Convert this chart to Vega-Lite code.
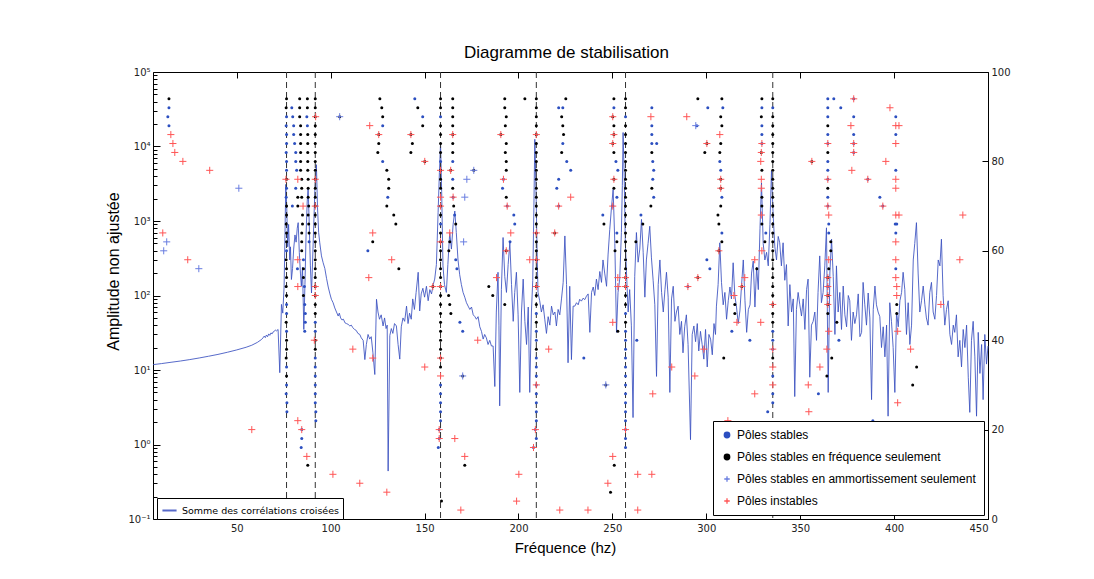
{
"$schema": "https://vega.github.io/schema/vega-lite/v6.json",
"width": 835, "height": 447,
"autosize": {"type": "none"},
"padding": {"left": 153, "top": 72, "right": 106, "bottom": 60},
"background": "white",
"title": {"text": "Diagramme de stabilisation", "fontSize": 17, "font": "Liberation Sans", "fontWeight": "normal", "color": "#000", "offset": 5, "dx": -4},
"config": {
  "view": {"stroke": "#000", "strokeWidth": 1},
  "font": "DejaVu Sans",
  "axis": {"grid": false, "domain": false, "labelFontSize": 10, "labelColor": "#222", "tickColor": "#000", "titleFontWeight": "normal", "titleColor": "#000", "labelFont": "DejaVu Sans"}
},
"datasets": {
"spectre": [
{"f":5.4,"a":11.8},{"f":10,"a":12.2},{"f":15,"a":12.7},{"f":20,"a":13.2},{"f":25,"a":13.8},{"f":30,"a":14.5},{"f":35,"a":15.3},{"f":40,"a":16.2},{"f":45,"a":17.3},{"f":50,"a":18.6},{"f":55,"a":20.2},{"f":58,"a":21.5},{"f":61,"a":23.5},{"f":63,"a":25.5},{"f":64,"a":27},{"f":64.6,"a":28.5},{"f":65.2,"a":27.2},{"f":65.8,"a":29.5},{"f":66.4,"a":28},{"f":67,"a":30.5},{"f":67.6,"a":29.2},{"f":68.2,"a":31.5},{"f":68.8,"a":30.5},{"f":69.4,"a":32.5},{"f":70,"a":33},{"f":70.6,"a":34.5},{"f":71.2,"a":33.5},{"f":72,"a":35},{"f":72.9,"a":9.2},{"f":73.8,"a":76},{"f":74.5,"a":58},{"f":75.2,"a":130},{"f":75.7,"a":700},{"f":76.1,"a":3100},{"f":76.6,"a":1600},{"f":77.1,"a":450},{"f":77.6,"a":900},{"f":78.2,"a":300},{"f":78.6,"a":450},{"f":79.1,"a":164},{"f":79.7,"a":230},{"f":80.3,"a":420},{"f":81,"a":650},{"f":81.6,"a":520},{"f":82.2,"a":800},{"f":82.7,"a":950},{"f":83.3,"a":380},{"f":83.9,"a":200},{"f":84.4,"a":133},{"f":85,"a":240},{"f":85.7,"a":35},{"f":86.3,"a":140},{"f":86.9,"a":650},{"f":87.5,"a":1800},{"f":88,"a":2800},{"f":88.6,"a":900},{"f":89.2,"a":250},{"f":89.8,"a":108},{"f":90.4,"a":300},{"f":91,"a":900},{"f":91.6,"a":2600},{"f":92.4,"a":5700},{"f":93,"a":1500},{"f":93.6,"a":700},{"f":94.2,"a":510},{"f":95.1,"a":340},{"f":96,"a":275},{"f":96.9,"a":230},{"f":97.8,"a":170},{"f":98.7,"a":130},{"f":99.6,"a":105},{"f":100.4,"a":89},{"f":101.3,"a":80},{"f":102.2,"a":68},{"f":103.1,"a":60},{"f":104,"a":53},{"f":104.6,"a":58},{"f":105.3,"a":50},{"f":106,"a":47},{"f":106.8,"a":48},{"f":107.6,"a":43},{"f":108.4,"a":42},{"f":109.3,"a":41},{"f":110.2,"a":39},{"f":111,"a":40},{"f":111.8,"a":37},{"f":112.7,"a":35},{"f":113.6,"a":34},{"f":114.5,"a":31},{"f":115.5,"a":30},{"f":116.3,"a":27},{"f":117.3,"a":25},{"f":118.2,"a":13.8},{"f":119,"a":22},{"f":119.9,"a":30},{"f":120.8,"a":26},{"f":121.6,"a":28},{"f":122.5,"a":17},{"f":123.5,"a":8.7},{"f":124.4,"a":89},{"f":125.2,"a":60},{"f":126,"a":48},{"f":126.9,"a":55},{"f":127.9,"a":39},{"f":128.7,"a":50},{"f":129.5,"a":36},{"f":130.1,"a":40},{"f":130.6,"a":0.44},{"f":131.5,"a":29},{"f":132.3,"a":36},{"f":133.1,"a":31},{"f":134,"a":42},{"f":135,"a":39},{"f":135.9,"a":22},{"f":136.8,"a":14},{"f":137.6,"a":38},{"f":138.5,"a":50},{"f":139.4,"a":45},{"f":140.4,"a":72},{"f":141.2,"a":42},{"f":142,"a":58},{"f":142.9,"a":48},{"f":143.7,"a":90},{"f":144.6,"a":65},{"f":145.5,"a":110},{"f":146.6,"a":205},{"f":147.4,"a":62},{"f":148.2,"a":105},{"f":149.1,"a":125},{"f":150,"a":95},{"f":151,"a":133},{"f":151.9,"a":85},{"f":152.8,"a":120},{"f":153.7,"a":105},{"f":154.6,"a":140},{"f":155.4,"a":166},{"f":156.3,"a":260},{"f":157.2,"a":1300},{"f":157.9,"a":4500},{"f":158.5,"a":11000},{"f":159.1,"a":2500},{"f":159.8,"a":250},{"f":160.6,"a":140},{"f":161.6,"a":110},{"f":162.4,"a":260},{"f":163.4,"a":700},{"f":164.3,"a":420},{"f":165.2,"a":900},{"f":166.1,"a":1360},{"f":166.9,"a":700},{"f":167.8,"a":300},{"f":168.7,"a":190},{"f":169.6,"a":140},{"f":170.5,"a":110},{"f":171.4,"a":95},{"f":172.3,"a":80},{"f":173.2,"a":72},{"f":174.1,"a":65},{"f":175,"a":70},{"f":175.9,"a":55},{"f":176.8,"a":52},{"f":177.6,"a":48},{"f":178.5,"a":52},{"f":179.4,"a":38},{"f":180.3,"a":33},{"f":181.2,"a":26},{"f":182,"a":30},{"f":182.9,"a":27},{"f":183.8,"a":22},{"f":184.7,"a":25},{"f":185.6,"a":21},{"f":186.5,"a":21},{"f":187.4,"a":6},{"f":188.2,"a":60},{"f":189.1,"a":205},{"f":189.6,"a":40},{"f":190,"a":3.3},{"f":190.9,"a":120},{"f":191.8,"a":600},{"f":192.7,"a":180},{"f":193.6,"a":110},{"f":194.5,"a":260},{"f":195.4,"a":510},{"f":196.3,"a":140},{"f":197.2,"a":45},{"f":198,"a":110},{"f":198.9,"a":205},{"f":199.8,"a":55},{"f":200.7,"a":5},{"f":201.6,"a":60},{"f":202.5,"a":166},{"f":203.4,"a":45},{"f":204.3,"a":22},{"f":205.2,"a":70},{"f":206,"a":5},{"f":206.9,"a":60},{"f":207.6,"a":160},{"f":208.2,"a":1500},{"f":208.7,"a":12500},{"f":209.3,"a":3000},{"f":209.9,"a":400},{"f":210.4,"a":110},{"f":211.3,"a":85},{"f":212.2,"a":60},{"f":213.1,"a":75},{"f":214,"a":48},{"f":214.9,"a":31},{"f":215.8,"a":52},{"f":216.7,"a":40},{"f":217.6,"a":72},{"f":218.5,"a":55},{"f":219.4,"a":60},{"f":220.2,"a":39},{"f":221.1,"a":65},{"f":222,"a":55},{"f":222.9,"a":90},{"f":223.8,"a":150},{"f":224.7,"a":630},{"f":225.6,"a":140},{"f":226.4,"a":12.5},{"f":227.3,"a":133},{"f":228.2,"a":13.8},{"f":229.1,"a":72},{"f":230,"a":72},{"f":230.9,"a":80},{"f":231.8,"a":75},{"f":232.6,"a":89},{"f":233.5,"a":84},{"f":234.4,"a":92},{"f":235.3,"a":88},{"f":236.2,"a":98},{"f":237.1,"a":105},{"f":238,"a":32},{"f":238.9,"a":110},{"f":239.8,"a":130},{"f":240.6,"a":100},{"f":241.5,"a":166},{"f":242.4,"a":120},{"f":243.3,"a":210},{"f":244.2,"a":150},{"f":245,"a":300},{"f":245.9,"a":200},{"f":246.9,"a":133},{"f":247.7,"a":350},{"f":248.6,"a":770},{"f":249.5,"a":1500},{"f":250.4,"a":2650},{"f":251.3,"a":500},{"f":252.2,"a":32},{"f":253,"a":110},{"f":253.9,"a":166},{"f":254.8,"a":700},{"f":255.3,"a":3000},{"f":255.7,"a":15400},{"f":256.3,"a":4000},{"f":256.9,"a":500},{"f":257.6,"a":180},{"f":258.4,"a":60},{"f":259.2,"a":120},{"f":260.1,"a":40},{"f":261,"a":2.3},{"f":261.9,"a":180},{"f":262.8,"a":700},{"f":263.7,"a":280},{"f":264.6,"a":420},{"f":265.5,"a":1050},{"f":266.4,"a":380},{"f":267.3,"a":95},{"f":268.1,"a":300},{"f":269,"a":500},{"f":269.9,"a":850},{"f":270.8,"a":320},{"f":271.7,"a":160},{"f":272.6,"a":75},{"f":273.5,"a":8.2},{"f":274.4,"a":140},{"f":275.3,"a":300},{"f":276.2,"a":110},{"f":277.1,"a":60},{"f":278,"a":120},{"f":278.8,"a":205},{"f":279.7,"a":95},{"f":280.6,"a":5},{"f":281.5,"a":90},{"f":282.4,"a":133},{"f":283.3,"a":45},{"f":284.1,"a":60},{"f":285,"a":72},{"f":285.9,"a":30},{"f":286.8,"a":45},{"f":287.6,"a":17},{"f":288.5,"a":38},{"f":289.4,"a":55},{"f":290.3,"a":22},{"f":291.6,"a":1.16},{"f":292.5,"a":30},{"f":293.4,"a":39},{"f":294.3,"a":24},{"f":295.2,"a":42},{"f":296,"a":18},{"f":296.9,"a":33},{"f":297.8,"a":22},{"f":298.7,"a":14},{"f":299.6,"a":35},{"f":300.5,"a":11},{"f":301.4,"a":30},{"f":302.3,"a":26},{"f":303.2,"a":16},{"f":304.1,"a":42},{"f":304.9,"a":30},{"f":305.4,"a":72},{"f":306.3,"a":140},{"f":307.2,"a":510},{"f":308.1,"a":150},{"f":309,"a":75},{"f":309.9,"a":110},{"f":310.8,"a":48},{"f":311.7,"a":85},{"f":312.6,"a":130},{"f":313.4,"a":90},{"f":314.3,"a":275},{"f":315.2,"a":100},{"f":316.1,"a":70},{"f":317,"a":42},{"f":317.9,"a":62},{"f":318.8,"a":140},{"f":319.7,"a":300},{"f":320.6,"a":85},{"f":321.5,"a":32},{"f":322.4,"a":65},{"f":323.3,"a":75},{"f":324.1,"a":200},{"f":325,"a":290},{"f":325.9,"a":70},{"f":326.8,"a":240},{"f":327.7,"a":120},{"f":328.6,"a":800},{"f":329.4,"a":3250},{"f":330.3,"a":500},{"f":331.2,"a":300},{"f":332.1,"a":380},{"f":333,"a":250},{"f":333.9,"a":900},{"f":334.7,"a":4680},{"f":335.6,"a":1200},{"f":336.5,"a":450},{"f":337.4,"a":300},{"f":338.3,"a":620},{"f":339.1,"a":510},{"f":340,"a":250},{"f":340.9,"a":510},{"f":341.8,"a":160},{"f":342.7,"a":260},{"f":343.6,"a":39},{"f":344.5,"a":140},{"f":345.4,"a":60},{"f":346.3,"a":90},{"f":347.1,"a":4.4},{"f":348,"a":65},{"f":348.9,"a":110},{"f":349.8,"a":75},{"f":350.7,"a":53},{"f":351.6,"a":90},{"f":352.5,"a":35},{"f":353.4,"a":120},{"f":354.2,"a":166},{"f":355.1,"a":8},{"f":356,"a":40},{"f":356.9,"a":45},{"f":357.8,"a":60},{"f":358.7,"a":25},{"f":359.5,"a":110},{"f":360.4,"a":340},{"f":361.3,"a":80},{"f":362.2,"a":110},{"f":363.1,"a":250},{"f":364,"a":810},{"f":364.9,"a":5},{"f":365.8,"a":200},{"f":366.7,"a":570},{"f":367.6,"a":180},{"f":368.5,"a":30},{"f":369.3,"a":250},{"f":370.2,"a":60},{"f":371.1,"a":110},{"f":372,"a":35},{"f":372.9,"a":134},{"f":373.8,"a":55},{"f":374.7,"a":38},{"f":375.6,"a":100},{"f":376.4,"a":85},{"f":377.3,"a":25},{"f":378.2,"a":60},{"f":379.1,"a":42},{"f":380,"a":55},{"f":380.9,"a":105},{"f":381.8,"a":28},{"f":382.7,"a":32},{"f":383.5,"a":150},{"f":384.4,"a":75},{"f":385.3,"a":40},{"f":386.2,"a":108},{"f":387.1,"a":50},{"f":388,"a":4},{"f":388.9,"a":65},{"f":389.8,"a":134},{"f":390.6,"a":75},{"f":391.5,"a":60},{"f":392.4,"a":52},{"f":393.3,"a":20},{"f":394.2,"a":38},{"f":395.1,"a":15},{"f":396,"a":40},{"f":396.8,"a":2.4},{"f":397.7,"a":80},{"f":398.6,"a":45},{"f":399.5,"a":20},{"f":400.4,"a":5},{"f":401.3,"a":60},{"f":402.2,"a":38},{"f":403.1,"a":85},{"f":404,"a":110},{"f":404.8,"a":205},{"f":405.7,"a":120},{"f":406.6,"a":30},{"f":407.5,"a":80},{"f":408.4,"a":22},{"f":409.3,"a":40},{"f":410.2,"a":300},{"f":411,"a":500},{"f":411.9,"a":950},{"f":412.8,"a":200},{"f":413.7,"a":60},{"f":414.6,"a":85},{"f":415.5,"a":134},{"f":416.4,"a":75},{"f":417.2,"a":50},{"f":418.1,"a":40},{"f":419,"a":110},{"f":419.9,"a":150},{"f":420.8,"a":60},{"f":421.7,"a":48},{"f":422.6,"a":100},{"f":423.5,"a":300},{"f":424.4,"a":250},{"f":425.2,"a":570},{"f":426.1,"a":100},{"f":427,"a":40},{"f":427.9,"a":65},{"f":428.8,"a":85},{"f":429.7,"a":30},{"f":430.6,"a":22},{"f":431.5,"a":40},{"f":432.3,"a":32},{"f":433.2,"a":55},{"f":434.1,"a":15},{"f":435,"a":25},{"f":435.9,"a":11},{"f":436.8,"a":35},{"f":437.7,"a":20},{"f":438.6,"a":40},{"f":439.5,"a":8},{"f":440.3,"a":2.7},{"f":441.2,"a":25},{"f":442.1,"a":45},{"f":443,"a":15},{"f":443.9,"a":2.4},{"f":444.8,"a":32},{"f":445.7,"a":9},{"f":446.6,"a":22},{"f":447.4,"a":4},{"f":448.3,"a":30},{"f":449.2,"a":12},{"f":450,"a":21}
],
"modes": [{"f":76.5},{"f":91.8},{"f":158.5},{"f":209.5},{"f":257},{"f":335.4}],
"poles": [
{"o":94,"f":13.9,"t":"f"},{"o":92,"f":13.9,"t":"s"},{"o":90,"f":13.3,"t":"s"},{"o":88,"f":13.9,"t":"s"},{"o":86,"f":14.9,"t":"u"},{"o":84,"f":16.0,"t":"u"},{"o":82,"f":17.0,"t":"u"},{"o":80,"f":21.3,"t":"u"},{"o":78,"f":35.6,"t":"u"},{"o":74,"f":51.1,"t":"d"},{"o":64,"f":10.6,"t":"u"},{"o":62,"f":12.7,"t":"d"},{"o":60,"f":11.1,"t":"d"},{"o":58,"f":23.9,"t":"u"},{"o":56,"f":29.8,"t":"d"},{"o":20,"f":58.0,"t":"u"},
{"o":94,"f":76.5,"t":"f"},{"o":92,"f":76.3,"t":"f"},{"o":90,"f":76.5,"t":"s"},{"o":88,"f":76.3,"t":"s"},{"o":86,"f":76.5,"t":"s"},{"o":84,"f":76.5,"t":"s"},{"o":82,"f":76.3,"t":"s"},{"o":80,"f":76.5,"t":"s"},{"o":78,"f":76.5,"t":"s"},{"o":76,"f":76.5,"t":"f"},{"o":74,"f":76.5,"t":"s"},{"o":72,"f":76.3,"t":"s"},{"o":70,"f":76.5,"t":"f"},{"o":68,"f":76.5,"t":"f"},{"o":66,"f":76.3,"t":"f"},{"o":64,"f":76.5,"t":"f"},{"o":62,"f":76.5,"t":"f"},{"o":60,"f":76.5,"t":"s"},{"o":58,"f":76.3,"t":"f"},{"o":56,"f":76.5,"t":"f"},{"o":54,"f":76.5,"t":"f"},{"o":52,"f":76.3,"t":"f"},{"o":50,"f":76.5,"t":"f"},{"o":48,"f":76.5,"t":"s"},{"o":46,"f":76.5,"t":"s"},{"o":44,"f":76.3,"t":"f"},{"o":42,"f":76.5,"t":"s"},{"o":40,"f":76.5,"t":"f"},{"o":38,"f":76.5,"t":"f"},{"o":36,"f":76.3,"t":"f"},{"o":34,"f":76.5,"t":"s"},{"o":32,"f":76.5,"t":"f"},{"o":30,"f":76.5,"t":"s"},{"o":28,"f":76.3,"t":"s"},{"o":26,"f":76.7,"t":"s"},{"o":24,"f":76.7,"t":"s"},
{"o":92,"f":79.3,"t":"s"},{"o":90,"f":79.8,"t":"s"},{"o":88,"f":80.3,"t":"s"},{"o":86,"f":80.3,"t":"s"},{"o":84,"f":80.8,"t":"s"},{"o":82,"f":81.4,"t":"s"},{"o":80,"f":81.4,"t":"s"},{"o":78,"f":81.9,"t":"s"},{"o":74,"f":81.4,"t":"s"},{"o":72,"f":82.5,"t":"f"},{"o":70,"f":82.5,"t":"f"},{"o":70,"f":79.6,"t":"s"},{"o":56,"f":82.3,"t":"s"},
{"o":94,"f":83.5,"t":"f"},{"o":92,"f":83.5,"t":"f"},{"o":90,"f":83.5,"t":"f"},{"o":88,"f":84.0,"t":"f"},{"o":86,"f":84.0,"t":"f"},{"o":84,"f":84.0,"t":"f"},{"o":82,"f":84.0,"t":"f"},{"o":80,"f":84.0,"t":"f"},{"o":78,"f":84.0,"t":"f"},{"o":76,"f":84.6,"t":"f"},{"o":74,"f":84.6,"t":"f"},{"o":72,"f":84.6,"t":"f"},{"o":68,"f":85.0,"t":"f"},{"o":66,"f":85.0,"t":"f"},{"o":64,"f":84.6,"t":"f"},{"o":62,"f":84.6,"t":"f"},{"o":60,"f":84.6,"t":"f"},{"o":58,"f":85.5,"t":"s"},{"o":56,"f":85.5,"t":"f"},{"o":54,"f":85.5,"t":"f"},{"o":52,"f":86.0,"t":"s"},{"o":50,"f":85.5,"t":"f"},{"o":48,"f":86.2,"t":"s"},{"o":46,"f":86.5,"t":"s"},{"o":44,"f":86.5,"t":"s"},{"o":42,"f":86.2,"t":"s"},{"o":20,"f":84.6,"t":"s"},{"o":18,"f":84.6,"t":"s"},{"o":16,"f":84.3,"t":"s"},{"o":12,"f":87.8,"t":"f"},
{"o":94,"f":87.6,"t":"f"},{"o":92,"f":87.6,"t":"f"},{"o":90,"f":87.3,"t":"s"},{"o":88,"f":87.6,"t":"s"},{"o":86,"f":87.8,"t":"f"},{"o":84,"f":87.8,"t":"f"},{"o":82,"f":87.8,"t":"f"},{"o":80,"f":87.8,"t":"f"},{"o":78,"f":87.8,"t":"f"},{"o":76,"f":88.0,"t":"f"},{"o":74,"f":88.0,"t":"f"},{"o":72,"f":88.0,"t":"f"},{"o":70,"f":88.3,"t":"f"},{"o":68,"f":88.0,"t":"f"},{"o":66,"f":88.3,"t":"f"},{"o":64,"f":88.5,"t":"f"},{"o":62,"f":88.5,"t":"s"},
{"o":94,"f":91.8,"t":"f"},{"o":92,"f":91.8,"t":"f"},{"o":90,"f":91.8,"t":"f"},{"o":88,"f":91.8,"t":"f"},{"o":86,"f":91.8,"t":"f"},{"o":84,"f":91.8,"t":"f"},{"o":82,"f":91.8,"t":"f"},{"o":80,"f":91.8,"t":"f"},{"o":78,"f":91.8,"t":"f"},{"o":76,"f":91.8,"t":"f"},{"o":74,"f":91.8,"t":"f"},{"o":72,"f":91.8,"t":"f"},{"o":70,"f":91.8,"t":"f"},{"o":68,"f":91.8,"t":"f"},{"o":66,"f":91.8,"t":"f"},{"o":64,"f":91.8,"t":"f"},{"o":62,"f":91.8,"t":"f"},{"o":60,"f":91.8,"t":"f"},{"o":58,"f":91.8,"t":"f"},{"o":56,"f":91.8,"t":"f"},{"o":54,"f":91.8,"t":"f"},{"o":52,"f":91.8,"t":"f"},{"o":50,"f":91.8,"t":"f"},{"o":48,"f":91.8,"t":"f"},{"o":46,"f":91.8,"t":"f"},{"o":44,"f":91.8,"t":"s"},{"o":42,"f":91.8,"t":"s"},{"o":40,"f":91.8,"t":"f"},{"o":38,"f":91.8,"t":"f"},{"o":36,"f":91.8,"t":"s"},{"o":34,"f":91.8,"t":"s"},{"o":32,"f":91.8,"t":"s"},{"o":30,"f":91.8,"t":"s"},{"o":28,"f":91.8,"t":"s"},{"o":26,"f":91.8,"t":"s"},{"o":24,"f":92.1,"t":"s"},{"o":22,"f":92.1,"t":"s"},
{"o":90,"f":104.8,"t":"f"},
{"o":94,"f":126.2,"t":"f"},{"o":92,"f":127.2,"t":"f"},{"o":90,"f":127.7,"t":"f"},{"o":88,"f":127.7,"t":"s"},{"o":86,"f":125.6,"t":"f"},{"o":84,"f":125.6,"t":"f"},{"o":82,"f":125.1,"t":"f"},{"o":80,"f":127.7,"t":"s"},{"o":78,"f":129.9,"t":"f"},{"o":76,"f":130.9,"t":"f"},{"o":74,"f":130.9,"t":"f"},{"o":72,"f":130.4,"t":"s"},{"o":70,"f":129.9,"t":"f"},{"o":68,"f":133.6,"t":"f"},{"o":66,"f":134.7,"t":"f"},{"o":62,"f":122.4,"t":"f"},{"o":60,"f":119.8,"t":"s"},{"o":56,"f":136.3,"t":"f"},
{"o":94,"f":144.8,"t":"s"},{"o":92,"f":146.4,"t":"f"},{"o":90,"f":149.0,"t":"s"},{"o":88,"f":149.0,"t":"f"},{"o":86,"f":142.7,"t":"f"},{"o":84,"f":143.5,"t":"f"},{"o":82,"f":142.7,"t":"f"},{"o":80,"f":150.1,"t":"f"},{"o":52,"f":154.4,"t":"f"},
{"o":94,"f":158.5,"t":"f"},{"o":92,"f":158.5,"t":"f"},{"o":90,"f":158.5,"t":"s"},{"o":88,"f":158.5,"t":"f"},{"o":86,"f":158.5,"t":"f"},{"o":84,"f":158.5,"t":"f"},{"o":82,"f":158.5,"t":"f"},{"o":80,"f":158.5,"t":"s"},{"o":78,"f":158.5,"t":"f"},{"o":76,"f":158.5,"t":"f"},{"o":74,"f":158.5,"t":"f"},{"o":70,"f":158.5,"t":"f"},{"o":68,"f":158.5,"t":"f"},{"o":66,"f":158.5,"t":"s"},{"o":64,"f":158.5,"t":"f"},{"o":62,"f":158.5,"t":"f"},{"o":60,"f":158.5,"t":"f"},{"o":58,"f":158.5,"t":"f"},{"o":56,"f":158.5,"t":"f"},{"o":54,"f":158.5,"t":"f"},{"o":52,"f":158.5,"t":"f"},{"o":50,"f":158.5,"t":"f"},{"o":48,"f":158.5,"t":"f"},{"o":46,"f":158.5,"t":"f"},{"o":44,"f":158.5,"t":"f"},{"o":42,"f":158.5,"t":"f"},{"o":40,"f":158.5,"t":"f"},{"o":38,"f":158.5,"t":"f"},{"o":36,"f":158.5,"t":"f"},{"o":34,"f":158.5,"t":"f"},{"o":30,"f":158.5,"t":"s"},{"o":28,"f":158.5,"t":"s"},{"o":26,"f":158.5,"t":"s"},{"o":24,"f":158.5,"t":"s"},{"o":22,"f":158.5,"t":"s"},{"o":20,"f":157.8,"t":"s"},{"o":18,"f":157.8,"t":"s"},{"o":16,"f":157.3,"t":"s"},{"o":4,"f":159.0,"t":"f"},
{"o":94,"f":165.0,"t":"f"},{"o":92,"f":165.0,"t":"f"},{"o":90,"f":165.0,"t":"f"},{"o":88,"f":165.0,"t":"f"},{"o":86,"f":165.0,"t":"f"},{"o":84,"f":165.0,"t":"f"},{"o":82,"f":165.0,"t":"f"},{"o":80,"f":165.0,"t":"s"},{"o":78,"f":163.9,"t":"f"},{"o":76,"f":165.0,"t":"s"},{"o":74,"f":165.0,"t":"f"},{"o":72,"f":165.2,"t":"s"},{"o":70,"f":165.5,"t":"f"},{"o":68,"f":166.0,"t":"s"},{"o":66,"f":166.6,"t":"f"},{"o":62,"f":163.4,"t":"f"},{"o":60,"f":162.9,"t":"f"},{"o":58,"f":166.6,"t":"s"},{"o":56,"f":167.2,"t":"s"},{"o":50,"f":162.8,"t":"f"},{"o":48,"f":163.4,"t":"f"},{"o":46,"f":164.0,"t":"f"},{"o":44,"f":168.8,"t":"s"},{"o":42,"f":170.3,"t":"s"},{"o":32,"f":170.3,"t":"f"},{"o":12,"f":171.4,"t":"f"},{"o":78,"f":176.2,"t":"f"},
{"o":94,"f":192.7,"t":"f"},{"o":92,"f":192.7,"t":"f"},{"o":90,"f":193.5,"t":"f"},{"o":88,"f":193.0,"t":"f"},{"o":86,"f":190.6,"t":"f"},{"o":84,"f":193.5,"t":"f"},{"o":82,"f":193.0,"t":"f"},{"o":80,"f":193.5,"t":"f"},{"o":78,"f":193.5,"t":"f"},{"o":76,"f":192.0,"t":"s"},{"o":74,"f":191.5,"t":"s"},{"o":72,"f":193.5,"t":"f"},{"o":70,"f":194.0,"t":"s"},{"o":68,"f":197.5,"t":"s"},{"o":66,"f":198.0,"t":"s"},{"o":62,"f":195.5,"t":"s"},{"o":60,"f":193.5,"t":"f"},{"o":52,"f":184.2,"t":"f"},{"o":50,"f":186.3,"t":"f"},{"o":48,"f":192.7,"t":"f"},{"o":94,"f":203.4,"t":"f"},
{"o":94,"f":209.5,"t":"f"},{"o":92,"f":209.5,"t":"f"},{"o":90,"f":209.5,"t":"f"},{"o":88,"f":209.5,"t":"f"},{"o":86,"f":209.5,"t":"f"},{"o":84,"f":209.5,"t":"f"},{"o":82,"f":209.5,"t":"f"},{"o":80,"f":209.5,"t":"f"},{"o":78,"f":209.5,"t":"f"},{"o":76,"f":209.5,"t":"f"},{"o":74,"f":209.5,"t":"f"},{"o":72,"f":209.5,"t":"f"},{"o":70,"f":209.5,"t":"f"},{"o":68,"f":209.5,"t":"f"},{"o":66,"f":209.5,"t":"f"},{"o":64,"f":209.5,"t":"f"},{"o":62,"f":209.5,"t":"f"},{"o":60,"f":209.5,"t":"f"},{"o":58,"f":209.5,"t":"f"},{"o":56,"f":209.5,"t":"f"},{"o":54,"f":209.5,"t":"f"},{"o":52,"f":209.5,"t":"f"},{"o":50,"f":209.5,"t":"f"},{"o":48,"f":209.5,"t":"f"},{"o":46,"f":209.5,"t":"s"},{"o":44,"f":209.5,"t":"f"},{"o":42,"f":209.5,"t":"s"},{"o":40,"f":209.5,"t":"s"},{"o":38,"f":209.5,"t":"f"},{"o":36,"f":209.5,"t":"s"},{"o":34,"f":209.5,"t":"s"},{"o":32,"f":209.5,"t":"s"},{"o":30,"f":209.5,"t":"s"},{"o":28,"f":209.5,"t":"s"},{"o":26,"f":209.5,"t":"s"},{"o":24,"f":209.5,"t":"s"},{"o":22,"f":209.5,"t":"s"},{"o":20,"f":209.0,"t":"s"},{"o":18,"f":209.5,"t":"s"},{"o":16,"f":208.0,"t":"s"},
{"o":94,"f":225.2,"t":"f"},{"o":92,"f":221.4,"t":"s"},{"o":92,"f":223.6,"t":"s"},{"o":90,"f":223.0,"t":"f"},{"o":88,"f":223.6,"t":"f"},{"o":86,"f":224.0,"t":"f"},{"o":84,"f":223.6,"t":"s"},{"o":82,"f":223.0,"t":"f"},{"o":80,"f":225.7,"t":"s"},{"o":78,"f":227.8,"t":"s"},{"o":76,"f":221.4,"t":"s"},{"o":74,"f":220.4,"t":"s"},{"o":70,"f":221.4,"t":"s"},{"o":64,"f":219.3,"t":"f"},{"o":68,"f":244.9,"t":"s"},{"o":66,"f":245.5,"t":"f"},{"o":36,"f":234.8,"t":"s"},{"o":30,"f":246.5,"t":"f"},
{"o":94,"f":250.8,"t":"f"},{"o":92,"f":250.8,"t":"s"},{"o":90,"f":250.2,"t":"f"},{"o":88,"f":250.8,"t":"f"},{"o":86,"f":250.8,"t":"f"},{"o":84,"f":250.2,"t":"f"},{"o":82,"f":250.8,"t":"f"},{"o":80,"f":251.9,"t":"s"},{"o":78,"f":252.9,"t":"s"},{"o":76,"f":250.8,"t":"f"},{"o":74,"f":250.8,"t":"f"},{"o":72,"f":252.4,"t":"s"},{"o":70,"f":250.2,"t":"s"},{"o":64,"f":252.4,"t":"s"},{"o":62,"f":252.4,"t":"f"},{"o":60,"f":251.4,"t":"f"},{"o":42,"f":252.9,"t":"f"},{"o":12,"f":251.0,"t":"f"},{"o":6,"f":249.0,"t":"f"},
{"o":94,"f":257,"t":"f"},{"o":92,"f":257,"t":"f"},{"o":90,"f":257,"t":"s"},{"o":88,"f":257,"t":"f"},{"o":86,"f":257,"t":"f"},{"o":84,"f":257,"t":"f"},{"o":82,"f":257,"t":"f"},{"o":80,"f":257,"t":"f"},{"o":78,"f":257,"t":"f"},{"o":76,"f":257,"t":"f"},{"o":74,"f":257,"t":"f"},{"o":72,"f":257,"t":"f"},{"o":70,"f":257,"t":"f"},{"o":68,"f":257,"t":"f"},{"o":66,"f":257,"t":"f"},{"o":64,"f":257,"t":"f"},{"o":62,"f":257,"t":"f"},{"o":60,"f":257,"t":"f"},{"o":58,"f":257,"t":"f"},{"o":56,"f":257,"t":"f"},{"o":54,"f":257,"t":"f"},{"o":52,"f":257,"t":"f"},{"o":50,"f":257,"t":"f"},{"o":48,"f":257,"t":"f"},{"o":46,"f":257,"t":"s"},{"o":44,"f":257,"t":"f"},{"o":42,"f":257,"t":"s"},{"o":40,"f":257,"t":"s"},{"o":38,"f":257,"t":"s"},{"o":36,"f":257,"t":"s"},{"o":34,"f":257,"t":"s"},{"o":32,"f":257,"t":"s"},{"o":30,"f":257,"t":"s"},{"o":28,"f":257,"t":"s"},{"o":26,"f":257,"t":"s"},{"o":24,"f":257,"t":"s"},{"o":22,"f":257,"t":"s"},{"o":20,"f":257,"t":"s"},{"o":18,"f":257,"t":"s"},{"o":16,"f":257,"t":"s"},
{"o":62,"f":262.5,"t":"f"},{"o":68,"f":265.2,"t":"s"},{"o":66,"f":266.2,"t":"f"},{"o":40,"f":263.0,"t":"s"},
{"o":92,"f":271.0,"t":"s"},{"o":88,"f":271.0,"t":"s"},{"o":86,"f":271.0,"t":"s"},{"o":84,"f":271.0,"t":"s"},{"o":84,"f":273.6,"t":"s"},{"o":82,"f":271.0,"t":"f"},{"o":80,"f":271.5,"t":"s"},{"o":78,"f":272.0,"t":"s"},{"o":76,"f":271.5,"t":"s"},{"o":74,"f":271.0,"t":"f"},{"o":72,"f":272.0,"t":"s"},{"o":70,"f":270.5,"t":"f"},
{"o":94,"f":295.5,"t":"f"},{"o":92,"f":300.8,"t":"s"},{"o":88,"f":295.0,"t":"s"},{"o":84,"f":300.3,"t":"f"},{"o":82,"f":299.2,"t":"f"},
{"o":94,"f":308.3,"t":"f"},{"o":92,"f":308.8,"t":"s"},{"o":90,"f":307.7,"t":"f"},{"o":88,"f":308.3,"t":"f"},{"o":84,"f":307.7,"t":"f"},{"o":82,"f":307.2,"t":"f"},{"o":80,"f":307.2,"t":"s"},{"o":78,"f":307.7,"t":"s"},{"o":76,"f":307.7,"t":"f"},{"o":74,"f":307.7,"t":"f"},{"o":72,"f":308.3,"t":"s"},{"o":70,"f":307.7,"t":"f"},{"o":68,"f":306.2,"t":"f"},{"o":66,"f":306.7,"t":"f"},{"o":64,"f":308.3,"t":"s"},{"o":62,"f":308.3,"t":"f"},{"o":60,"f":306.7,"t":"f"},{"o":58,"f":300.3,"t":"s"},{"o":56,"f":301.9,"t":"s"},{"o":54,"f":295.5,"t":"f"},{"o":52,"f":290.2,"t":"s"},{"o":36,"f":309.3,"t":"f"},{"o":48,"f":315.2,"t":"f"},{"o":46,"f":315.2,"t":"f"},{"o":42,"f":313.6,"t":"s"},{"o":40,"f":323.2,"t":"s"},{"o":52,"f":318.9,"t":"f"},{"o":56,"f":326.9,"t":"f"},
{"o":94,"f":329.6,"t":"f"},{"o":92,"f":329.6,"t":"s"},{"o":90,"f":329.3,"t":"f"},{"o":88,"f":329.6,"t":"s"},{"o":86,"f":329.6,"t":"s"},{"o":84,"f":329.6,"t":"s"},{"o":82,"f":329.3,"t":"f"},{"o":78,"f":329.6,"t":"f"},{"o":72,"f":329.6,"t":"f"},{"o":70,"f":329.6,"t":"f"},{"o":66,"f":329.6,"t":"f"},{"o":64,"f":331.7,"t":"s"},{"o":62,"f":331.2,"t":"f"},
{"o":94,"f":335.4,"t":"f"},{"o":92,"f":335.4,"t":"s"},{"o":90,"f":335.4,"t":"f"},{"o":88,"f":335.4,"t":"f"},{"o":86,"f":335.4,"t":"f"},{"o":84,"f":335.4,"t":"f"},{"o":82,"f":335.4,"t":"f"},{"o":80,"f":335.4,"t":"f"},{"o":78,"f":335.4,"t":"f"},{"o":76,"f":335.4,"t":"f"},{"o":74,"f":335.4,"t":"f"},{"o":72,"f":335.4,"t":"f"},{"o":70,"f":335.4,"t":"f"},{"o":68,"f":335.4,"t":"f"},{"o":66,"f":335.4,"t":"f"},{"o":64,"f":335.4,"t":"f"},{"o":62,"f":335.4,"t":"f"},{"o":60,"f":335.4,"t":"f"},{"o":58,"f":335.4,"t":"f"},{"o":56,"f":335.4,"t":"f"},{"o":54,"f":335.4,"t":"f"},{"o":52,"f":335.4,"t":"f"},{"o":50,"f":335.4,"t":"f"},{"o":48,"f":335.4,"t":"f"},{"o":46,"f":335.4,"t":"f"},{"o":44,"f":335.4,"t":"f"},{"o":42,"f":335.4,"t":"s"},{"o":40,"f":335.4,"t":"s"},{"o":38,"f":335.4,"t":"s"},{"o":36,"f":335.4,"t":"f"},{"o":32,"f":335.4,"t":"s"},{"o":28,"f":335.4,"t":"s"},{"o":26,"f":335.4,"t":"s"},{"o":24,"f":332.7,"t":"s"},
{"o":94,"f":364.7,"t":"s"},{"o":94,"f":367.9,"t":"s"},{"o":92,"f":364.7,"t":"s"},{"o":92,"f":371.6,"t":"s"},{"o":90,"f":364.7,"t":"s"},{"o":88,"f":364.7,"t":"f"},{"o":86,"f":364.7,"t":"s"},{"o":84,"f":364.7,"t":"s"},{"o":82,"f":364.7,"t":"f"},{"o":80,"f":364.7,"t":"s"},{"o":78,"f":364.7,"t":"s"},{"o":76,"f":364.7,"t":"s"},{"o":74,"f":364.7,"t":"f"},{"o":72,"f":364.7,"t":"s"},{"o":70,"f":364.7,"t":"s"},{"o":66,"f":365.2,"t":"s"},{"o":64,"f":365.2,"t":"s"},{"o":62,"f":366.3,"t":"f"},{"o":60,"f":366.3,"t":"f"},{"o":56,"f":365.2,"t":"f"},{"o":54,"f":364.7,"t":"f"},{"o":52,"f":364.7,"t":"s"},{"o":50,"f":364.7,"t":"f"},{"o":48,"f":364.7,"t":"f"},{"o":46,"f":364.7,"t":"f"},{"o":44,"f":369.5,"t":"f"},{"o":40,"f":370.6,"t":"s"},{"o":36,"f":366.8,"t":"f"},{"o":32,"f":364.2,"t":"f"},{"o":28,"f":359.7,"t":"s"},
{"o":94,"f":378.5,"t":"s"},{"o":90,"f":378.5,"t":"s"},{"o":86,"f":378.5,"t":"s"},{"o":84,"f":378.5,"t":"s"},{"o":82,"f":378.5,"t":"s"},{"o":80,"f":356.2,"t":"f"},{"o":76,"f":386.0,"t":"s"},{"o":72,"f":392.4,"t":"s"},{"o":70,"f":394.0,"t":"s"},
{"o":90,"f":400.9,"t":"s"},{"o":86,"f":400.9,"t":"s"},{"o":78,"f":400.9,"t":"s"},{"o":66,"f":400.6,"t":"s"},{"o":66,"f":401.4,"t":"s"},{"o":64,"f":400.9,"t":"s"},{"o":56,"f":400.9,"t":"s"},{"o":48,"f":401.4,"t":"f"},{"o":46,"f":401.4,"t":"f"},{"o":34,"f":412.0,"t":"f"},{"o":30,"f":409.9,"t":"f"},{"o":22,"f":388.7,"t":"s"},
{"o":90,"f":104.8,"t":"d"},{"o":76,"f":172.5,"t":"d"},{"o":78,"f":176.2,"t":"d"},{"o":72,"f":171.4,"t":"d"},{"o":62,"f":170.8,"t":"d"},{"o":32,"f":170.3,"t":"d"},{"o":30,"f":246.5,"t":"d"},{"o":88,"f":294.4,"t":"d"},
{"o":76,"f":76.2,"t":"u"},{"o":76,"f":82.5,"t":"u"},{"o":70,"f":85.3,"t":"u"},{"o":58,"f":82.5,"t":"u"},{"o":52,"f":82.5,"t":"u"},{"o":22,"f":82.5,"t":"u"},{"o":20,"f":84.6,"t":"u"},{"o":14,"f":87.3,"t":"u"},
{"o":90,"f":92.0,"t":"u"},{"o":76,"f":91.8,"t":"u"},{"o":70,"f":91.8,"t":"u"},{"o":52,"f":91.8,"t":"u"},{"o":50,"f":91.8,"t":"u"},{"o":40,"f":91.3,"t":"u"},{"o":38,"f":111.8,"t":"u"},{"o":10,"f":101.2,"t":"u"},{"o":8,"f":115.5,"t":"u"},{"o":6,"f":129.9,"t":"u"},
{"o":88,"f":120.8,"t":"u"},{"o":86,"f":125.6,"t":"u"},{"o":64,"f":122.4,"t":"u"},{"o":58,"f":132.5,"t":"u"},{"o":54,"f":120.3,"t":"u"},{"o":36,"f":122.4,"t":"u"},{"o":86,"f":142.7,"t":"u"},{"o":80,"f":150.1,"t":"u"},{"o":52,"f":154.4,"t":"u"},{"o":34,"f":150.1,"t":"u"},
{"o":78,"f":158.5,"t":"u"},{"o":72,"f":158.5,"t":"u"},{"o":70,"f":158.5,"t":"u"},{"o":62,"f":158.5,"t":"u"},{"o":52,"f":158.5,"t":"u"},{"o":36,"f":158.5,"t":"u"},{"o":32,"f":158.5,"t":"u"},{"o":20,"f":157.8,"t":"u"},{"o":18,"f":157.8,"t":"u"},
{"o":86,"f":165.0,"t":"u"},{"o":78,"f":163.9,"t":"u"},{"o":72,"f":165.2,"t":"u"},{"o":64,"f":163.4,"t":"u"},{"o":18,"f":166.1,"t":"u"},{"o":14,"f":171.4,"t":"u"},{"o":40,"f":178.3,"t":"u"},{"o":2,"f":169.3,"t":"u"},
{"o":86,"f":190.6,"t":"u"},{"o":76,"f":192.0,"t":"u"},{"o":70,"f":194.0,"t":"u"},{"o":64,"f":195.9,"t":"u"},{"o":60,"f":193.5,"t":"u"},{"o":58,"f":206.0,"t":"u"},{"o":54,"f":188.3,"t":"u"},{"o":4,"f":199.0,"t":"u"},{"o":10,"f":200.2,"t":"u"},
{"o":86,"f":209.5,"t":"u"},{"o":64,"f":209.5,"t":"u"},{"o":58,"f":209.5,"t":"u"},{"o":52,"f":209.5,"t":"u"},{"o":30,"f":209.5,"t":"u"},{"o":20,"f":209.0,"t":"u"},{"o":16,"f":208.0,"t":"u"},
{"o":72,"f":227.8,"t":"u"},{"o":70,"f":221.4,"t":"u"},{"o":64,"f":219.3,"t":"u"},{"o":38,"f":216.1,"t":"u"},{"o":2,"f":222.0,"t":"u"},{"o":2,"f":237.0,"t":"u"},{"o":8,"f":247.6,"t":"u"},
{"o":90,"f":250.2,"t":"u"},{"o":86,"f":250.8,"t":"u"},{"o":84,"f":250.2,"t":"u"},{"o":76,"f":250.8,"t":"u"},{"o":70,"f":250.2,"t":"u"},{"o":54,"f":252.9,"t":"u"},{"o":52,"f":252.9,"t":"u"},{"o":44,"f":250.2,"t":"u"},{"o":14,"f":250.2,"t":"u"},
{"o":54,"f":257,"t":"u"},{"o":52,"f":257,"t":"u"},{"o":20,"f":257,"t":"u"},{"o":10,"f":263.5,"t":"u"},{"o":2,"f":263.5,"t":"u"},
{"o":90,"f":270.5,"t":"u"},{"o":28,"f":271.5,"t":"u"},{"o":34,"f":281.6,"t":"u"},{"o":90,"f":289.6,"t":"u"},{"o":32,"f":293.9,"t":"u"},{"o":10,"f":271.0,"t":"u"},
{"o":84,"f":300.3,"t":"u"},{"o":86,"f":307.2,"t":"u"},{"o":76,"f":307.7,"t":"u"},{"o":74,"f":307.7,"t":"u"},{"o":60,"f":306.7,"t":"u"},{"o":54,"f":295.5,"t":"u"},{"o":52,"f":290.2,"t":"u"},{"o":38,"f":298.7,"t":"u"},{"o":50,"f":314.7,"t":"u"},{"o":44,"f":316.3,"t":"u"},{"o":54,"f":320.5,"t":"u"},{"o":52,"f":318.9,"t":"u"},{"o":58,"f":325.8,"t":"u"},{"o":28,"f":325.8,"t":"u"},{"o":44,"f":329.0,"t":"u"},{"o":22,"f":311.5,"t":"u"},
{"o":84,"f":329.6,"t":"u"},{"o":82,"f":329.3,"t":"u"},{"o":80,"f":329.0,"t":"u"},{"o":76,"f":329.3,"t":"u"},{"o":74,"f":329.3,"t":"u"},{"o":68,"f":329.3,"t":"u"},{"o":60,"f":329.6,"t":"u"},
{"o":48,"f":335.4,"t":"u"},{"o":38,"f":335.4,"t":"u"},{"o":34,"f":335.4,"t":"u"},{"o":30,"f":335.4,"t":"u"},
{"o":84,"f":364.7,"t":"u"},{"o":76,"f":364.7,"t":"u"},{"o":70,"f":364.7,"t":"u"},{"o":68,"f":365.2,"t":"u"},{"o":58,"f":365.2,"t":"u"},{"o":54,"f":364.7,"t":"u"},{"o":52,"f":364.7,"t":"u"},{"o":50,"f":364.7,"t":"u"},{"o":48,"f":364.7,"t":"u"},{"o":42,"f":365.2,"t":"u"},{"o":38,"f":364.2,"t":"u"},{"o":34,"f":360.5,"t":"u"},{"o":30,"f":354.3,"t":"u"},{"o":24,"f":354.6,"t":"u"},
{"o":94,"f":378.5,"t":"u"},{"o":88,"f":377.0,"t":"u"},{"o":84,"f":378.5,"t":"u"},{"o":82,"f":378.5,"t":"u"},{"o":78,"f":377.5,"t":"u"},{"o":80,"f":356.2,"t":"u"},{"o":76,"f":386.0,"t":"u"},{"o":70,"f":394.0,"t":"u"},{"o":92,"f":397.8,"t":"u"},{"o":80,"f":395.6,"t":"u"},
{"o":88,"f":400.9,"t":"u"},{"o":88,"f":402.6,"t":"u"},{"o":84,"f":400.9,"t":"u"},{"o":76,"f":400.9,"t":"u"},{"o":74,"f":400.9,"t":"u"},{"o":68,"f":400.9,"t":"u"},{"o":68,"f":402.6,"t":"u"},{"o":62,"f":400.9,"t":"u"},{"o":58,"f":400.9,"t":"u"},{"o":54,"f":400.9,"t":"u"},{"o":52,"f":401.4,"t":"u"},{"o":50,"f":401.4,"t":"u"},{"o":42,"f":401.9,"t":"u"},{"o":38,"f":408.8,"t":"u"},{"o":26,"f":401.9,"t":"u"},{"o":68,"f":436.6,"t":"u"},{"o":58,"f":435.0,"t":"u"},{"o":48,"f":424.9,"t":"u"}
]
},
"layer": [
 {"data": {"name": "spectre"},
  "mark": {"type": "line", "strokeWidth": 1, "opacity": 0.85},
  "encoding": {
    "x": {"field": "f", "type": "quantitative", "scale": {"domain": [5.4, 450], "nice": false, "zero": false},
          "axis": {"title": "Fréquence (hz)", "values": [50,100,150,200,250,300,350,400,450], "tickSize": -6, "labelPadding": 10, "titleFontSize": 15, "titleFont": "Liberation Sans", "titlePadding": 7, "titleX": 412}},
    "y": {"field": "a", "type": "quantitative", "scale": {"type": "log", "domain": [0.1, 100000], "nice": false},
          "axis": {"title": "Amplitude non ajustée", "titleFontSize": 16, "titleFont": "Liberation Sans", "titlePadding": 6, "titleY": 199,
                   "values": [0.1,0.2,0.3,0.4,0.5,0.6,0.7,0.8,0.9,1,2,3,4,5,6,7,8,9,10,20,30,40,50,60,70,80,90,100,200,300,400,500,600,700,800,900,1000,2000,3000,4000,5000,6000,7000,8000,9000,10000,20000,30000,40000,50000,60000,70000,80000,90000,100000],
                   "labelExpr": "datum.value == 100000 ? '10⁵' : datum.value == 10000 ? '10⁴' : datum.value == 1000 ? '10³' : datum.value == 100 ? '10²' : datum.value == 10 ? '10¹' : datum.value == 1 ? '10⁰' : datum.value == 0.1 ? '10⁻¹' : ''",
                   "tickSize": {"condition": {"test": "indexof([0.1,1,10,100,1000,10000,100000], datum.value) >= 0", "value": -7}, "value": -4},
                   "labelPadding": 10}},
    "stroke": {"datum": "Somme des corrélations croisées", "type": "nominal", "scale": {"range": ["#3a50c0"]},
               "legend": {"orient": "none", "legendX": 4, "legendY": 426, "title": null, "strokeColor": "#000", "fillColor": "#fff", "padding": 4, "symbolType": "stroke", "symbolStrokeWidth": 2, "symbolSize": 200, "labelFontSize": 9.5, "labelLimit": 400, "labelFont": "DejaVu Sans"}}
  }},
 {"data": {"name": "modes"},
  "mark": {"type": "rule", "strokeDash": [6, 4], "color": "#333", "strokeWidth": 1},
  "encoding": {"x": {"field": "f", "type": "quantitative", "axis": {"orient": "top", "labels": false, "title": null, "values": [50,100,150,200,250,300,350,400,450], "tickSize": -6}}}},
 {"data": {"name": "poles"},
  "encoding": {
    "x": {"field": "f", "type": "quantitative", "axis": null},
    "y": {"field": "o", "type": "quantitative", "scale": {"domain": [0, 100], "nice": false},
          "axis": {"orient": "right", "values": [0,20,40,60,80,100], "title": null, "tickSize": -6, "labelPadding": 9}},
    "color": {"field": "t", "type": "nominal", "scale": {"domain": ["s","f","d","u"], "range": ["#2c4fc0","#000000","#6a7ee0","#ff5555"]},
             "legend": {"orient": "none", "legendX": 560, "legendY": 349, "title": null, "strokeColor": "#000", "fillColor": "#fff", "padding": 8, "labelFontSize": 12, "labelFont": "Liberation Sans", "labelLimit": 400, "rowPadding": 10, "symbolSize": 30, "symbolStrokeWidth": 1.3,
                        "labelExpr": "datum.label == 's' ? 'Pôles stables' : datum.label == 'f' ? 'Pôles stables en fréquence seulement' : datum.label == 'd' ? 'Pôles stables en ammortissement seulement' : 'Pôles instables'"}},
    "shape": {"field": "t", "type": "nominal", "scale": {"domain": ["s","f","d","u"], "range": ["circle","circle","M-1,0L1,0M0,-1L0,1","M-1,0L1,0M0,-1L0,1"]},
             "legend": {"orient": "none", "legendX": 560, "legendY": 349, "title": null, "strokeColor": "#000", "fillColor": "#fff", "padding": 8, "labelFontSize": 12, "labelFont": "Liberation Sans", "labelLimit": 400, "rowPadding": 10, "symbolSize": 30, "symbolStrokeWidth": 1.3,
                        "labelExpr": "datum.label == 's' ? 'Pôles stables' : datum.label == 'f' ? 'Pôles stables en fréquence seulement' : datum.label == 'd' ? 'Pôles stables en ammortissement seulement' : 'Pôles instables'"}}
  },
  "layer": [
   {"transform": [{"filter": "datum.t == 's' || datum.t == 'f'"}],
    "mark": {"type": "point", "filled": true, "size": 9, "opacity": 1}},
   {"transform": [{"filter": "datum.t == 'd' || datum.t == 'u'"}],
    "mark": {"type": "point", "filled": false, "size": 50, "strokeWidth": 1, "opacity": 1}}
  ]}
],
"resolve": {"scale": {"y": "independent"}, "axis": {"x": "independent"}}
}
